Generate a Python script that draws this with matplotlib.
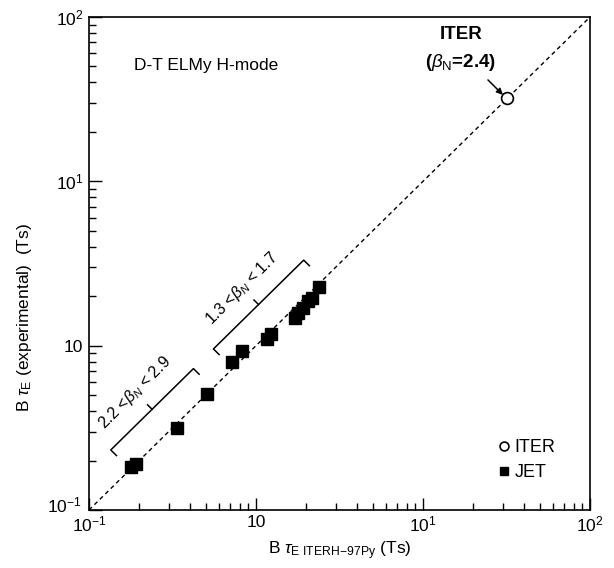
import matplotlib
matplotlib.use("Agg")
import matplotlib.pyplot as plt
import matplotlib.transforms as mtransforms
import numpy as np

plt.rcParams['font.family'] = ['Liberation Sans', 'DejaVu Sans']
plt.rcParams['mathtext.fontset'] = 'custom'
plt.rcParams['mathtext.rm'] = 'Liberation Sans'
plt.rcParams['mathtext.it'] = 'Liberation Sans:italic'
plt.rcParams['mathtext.bf'] = 'Liberation Sans:bold'

# JET D-T ELMy H-mode points (predicted, experimental) in Ts
jet_pred = [0.178, 0.191, 0.337, 0.509, 0.718, 0.824, 1.16, 1.23,
            1.71, 1.78, 1.91, 2.05, 2.16, 2.38]
jet_exp = [0.183, 0.190, 0.315, 0.51, 0.80, 0.93, 1.10, 1.17,
           1.48, 1.58, 1.70, 1.86, 1.95, 2.28]
# ITER prediction
iter_pred = [32.0]
iter_exp = [32.0]

# beta_N ranges marked by brackets along the diagonal
bracket_labels = [r'2.2 <$\beta_N$ < 2.9', r'1.3 <$\beta_N$ < 1.7']
bracket_start = [0.135, 0.556]
bracket_end = [0.422, 1.93]

fig = plt.figure(figsize=(6.14, 5.68), dpi=100)
ax = fig.add_axes([89 / 614, 1 - 510 / 568, 501 / 614, 493 / 568])
ax.set_xscale('log')
ax.set_yscale('log')
ax.set_xlim(0.1, 100)
ax.set_ylim(0.1, 100)

# unity line
ax.plot([0.1, 100], [0.1, 100], color='black', ls=(0, (3, 2.5)), lw=1.0, zorder=1)

jet_line, = ax.plot(jet_pred, jet_exp, ls='none', marker='s', ms=8.2,
                    color='black', label='JET', zorder=3)
iter_line, = ax.plot(iter_pred, iter_exp, ls='none', marker='o', ms=8.5,
                     mfc='white', mec='black', mew=1.2, label='ITER', zorder=3)

# brackets parallel to the diagonal
offset = 0.235  # decades above the diagonal
hook = 0.034
for lab, x0, x1 in zip(bracket_labels, bracket_start, bracket_end):
    lx0, lx1 = np.log10(x0), np.log10(x1)
    ly0, ly1 = lx0 + offset, lx1 + offset
    xs = [lx0 + hook, lx0, lx1, lx1 + hook]
    ys = [ly0 - hook, ly0, ly1, ly1 - hook]
    ax.plot(10 ** np.array(xs), 10 ** np.array(ys), color='black', lw=1.1)
    mx, my = (lx0 + lx1) / 2, (ly0 + ly1) / 2
    ax.plot(10 ** np.array([mx, mx - hook * 0.8]), 10 ** np.array([my, my + hook * 0.8]),
            color='black', lw=1.1)
    ax.text(10 ** (mx - 0.1), 10 ** (my + 0.1), lab, rotation=45, ha='center',
            va='center', fontsize=11.5, rotation_mode='anchor')

ax.text(0.185, 51, 'D-T ELMy H-mode', fontsize=12.5, va='center', ha='left')
ax.text(16.9, 78, 'ITER', fontsize=13.5, fontweight='bold', ha='center', va='center')
ax.text(16.9, 53, r'($\beta_{\mathrm{N}}$=2.4)', fontsize=13.5, fontweight='bold',
        ha='center', va='center')
ax.annotate('', xy=(30.1, 33.6), xytext=(24.5, 41.4),
            arrowprops=dict(arrowstyle='-|>', color='black', lw=1.1,
                            mutation_scale=9, shrinkA=0, shrinkB=0))

leg = ax.legend(handles=[iter_line, jet_line], loc='lower left',
                bbox_to_anchor=(0.785, 0.025), frameon=False, fontsize=13,
                handlelength=0.6, handletextpad=0.3, labelspacing=0.45,
                markerscale=0.75)

ticks = [0.1, 1, 10, 100]
labels = [r'$10^{-1}$', '10', r'$10^{1}$', r'$10^{2}$']
ax.set_xticks(ticks)
ax.set_xticklabels(labels)
ax.set_yticks(ticks)
ax.set_yticklabels(labels)
ax.tick_params(which='both', direction='in', top=False, right=False,
               labelsize=12.5)
ax.tick_params(axis='x', pad=3.5)
ax.tick_params(axis='y', pad=4)
ax.tick_params(which='major', length=9, width=1)
ax.tick_params(which='minor', length=5, width=1)
for s in ax.spines.values():
    s.set_linewidth(1.2)

# lift the lowest y label a little so it clears the x label in the corner
low = ax.get_yticklabels()[0]
low.set_transform(low.get_transform() +
                  mtransforms.ScaledTranslation(-0.02, 0.06, fig.dpi_scale_trans))

fig.text(340 / 614, 1 - 551 / 568, r'B $\tau_{\mathrm{E\ ITERH\!-\!97Py}}$ (Ts)',
         fontsize=12.5, ha='center', va='center')
fig.text(25 / 614, 1 - 318 / 568, r'B $\tau_{\mathrm{E}}$ (experimental)  (Ts)',
         fontsize=12.5, ha='center', va='center', rotation=90)

fig.savefig('out.png', dpi=100)
